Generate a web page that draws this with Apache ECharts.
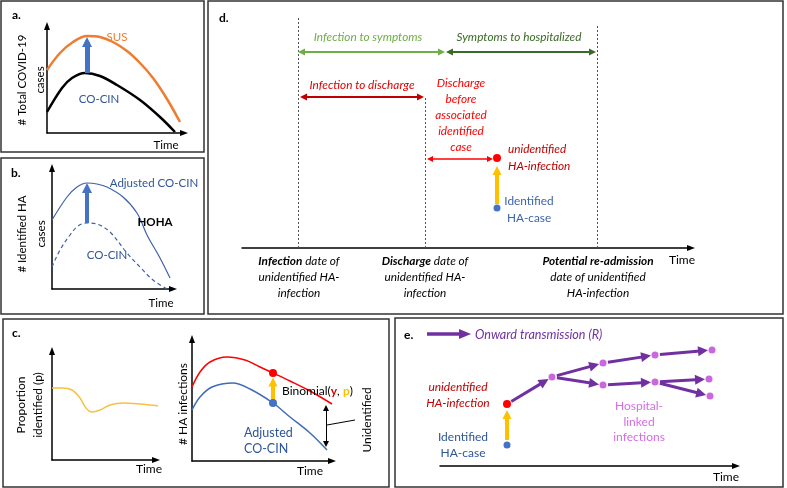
<!DOCTYPE html>
<html><head><meta charset="utf-8">
<script src="https://cdn.jsdelivr.net/npm/echarts@6/dist/echarts.min.js"></script>
<style>html,body{margin:0;padding:0;background:#fff}#c{width:787px;height:488px}</style>
</head><body><div id="c"></div>
<script>
// ---------- data (schematic units) ----------
// Panel a
const susCurve = [[0,63],[13,80],[26,91],[40,97],[53,96],[66,91],[80,82],[93,70],[106,55],[120,34],[133,11]];
const cocinCurveA = [[0,21],[15,45],[25,55],[38,60],[53,57],[70,48],[93,33],[113,16],[128,1]];
const upliftA = [[40,60],[40,91]];
// Panel b
const adjustedCurveB = [[0,69],[15,92],[25,102],[35,106],[45,105],[55,102],[71,92],[85,76],[95,54],[108,31],[118,11]];
const cocinCurveB = [[0,22],[8,39],[18,54],[26,63],[35,66],[45,65],[58,57],[75,36],[88,22],[101,9],[115,0]];
const upliftB = [[35,66],[35,101]];
// Panel c
const proportionCurve = [[0,72],[10,72],[20,70],[28,62],[34,52],[40,48],[48,50],[58,55],[71,57],[88,56],[108,54]];
const totalHACurve = [[0,74],[8,89],[18,99],[35,104],[53,101],[68,94],[81,88],[98,80],[118,70],[140,57]];
const adjustedCurveC = [[0,51],[8,64],[20,74],[41,78],[58,72],[81,58],[98,44],[118,28],[135,11]];
const sampledTotal = [[81,88]];
const sampledIdentified = [[81,58]];
const binomialStep = [[81,61],[81,79]];
const unidentifiedGap = [[134,17],[134,53]];
// Panel d (timeline)
const eventTimes = [56,183,355];
const eventTops = [230,151,223];
const incubation = [[59.5,196],[199.5,196]];
const symptomsToHosp = [[207.5,196],[350.5,196]];
const infectionToDischarge = [[61.5,151],[178.5,151]];
const dischargeToCase = [[188,89],[248,89]];
const unidentifiedD = [[255,90]];
const identifiedD = [[255,40]];
const stepD = [[255,44],[255,77.5]];
// Panel e (transmission tree)
const nodesE = [[67,62],[112,89],[163,103],[163,81],[215,111],[215,84],[272,116],[269,87],[270,70]];
const edgesE = [[0,1],[1,2],[1,3],[2,4],[3,5],[4,6],[5,7],[5,8]];
const identifiedE = [[67,21]];
const stepE = [[67,26],[67,51.5]];

// ---------- layout ----------
const grids = [
  {left:47, top:26, width:137, height:107},
  {left:52, top:168, width:121, height:121},
  {left:52, top:351, width:104, height:109},
  {left:192, top:339, width:140, height:122},
  {left:242, top:18, width:449, height:230},
  {left:440, top:330, width:296, height:136}
];
const showY = [true,true,true,true,false,false];
const FONT = 'Lato';
const BLUE_T = '#2f5597', BLUE_L = '#4472c4', RED = '#ff0000', DRED = '#c00000',
      YEL = '#ffc000', PURP = '#7030a0', PINK = '#d36ee6', LGREEN = '#70ad47', DGREEN = '#3b6a26';

const axisLineStyle = {show:true, onZero:false, symbol:['none','triangle'], symbolSize:[6,8], lineStyle:{color:'#000', width:1.5}};
const xAxis = grids.map((g,i)=>({type:'value', gridIndex:i, min:0, max:g.width, axisLine:axisLineStyle,
  axisTick:{show:false}, axisLabel:{show:false}, splitLine:{show:false}}));
const yAxis = grids.map((g,i)=>({type:'value', gridIndex:i, min:0, max:g.height, show:showY[i], axisLine:axisLineStyle,
  axisTick:{show:false}, axisLabel:{show:false}, splitLine:{show:false}}));

function curve(gi, data, color, width, type, clip){
  return {type:'line', xAxisIndex:gi, yAxisIndex:gi, data, smooth:0.35, showSymbol:false, symbol:'none',
    clip: clip!==false, lineStyle:{color, width, type:type||'solid'}, z:3, silent:true};
}
function arrows(gi, list, color, width, size, both, z){
  return {type:'lines', coordinateSystem:'cartesian2d', xAxisIndex:gi, yAxisIndex:gi,
    symbol: both?['triangle','triangle']:['none','triangle'], symbolSize:[size,size],
    data:list.map(c=>({coords:c})), lineStyle:{color, width, opacity:1, curveness:0}, z:z||4, silent:true, clip:false};
}
function dots(gi, pts, color, size){
  return {type:'scatter', xAxisIndex:gi, yAxisIndex:gi, data:pts, symbolSize:size, itemStyle:{color, opacity:1}, z:6, silent:true};
}

const eArrows = edgesE.map(([a,b])=>{
  const p=nodesE[a], q=nodesE[b]; const dx=q[0]-p[0], dy=q[1]-p[1], L=Math.hypot(dx,dy);
  const s=5/L, e=(L-9)/L;
  return [[p[0]+dx*s,p[1]+dy*s],[p[0]+dx*e,p[1]+dy*e]];
});

const series = [
  // a
  curve(0, susCurve, '#ed7d31', 2.5),
  curve(0, cocinCurveA, '#000', 2.5),
  arrows(0, [upliftA], BLUE_L, 5, [10,10]),
  // b
  curve(1, adjustedCurveB, '#3e62aa', 1.2),
  curve(1, cocinCurveB, '#3e62aa', 1.2, [4,3]),
  arrows(1, [upliftB], BLUE_L, 4, [10,10]),
  // c
  curve(2, proportionCurve, '#f5c242', 1.5, 'solid', false),
  curve(3, totalHACurve, RED, 1.5),
  curve(3, adjustedCurveC, '#3f6cb5', 1.5),
  arrows(3, [binomialStep], YEL, 4, [9,9]),
  arrows(3, [unidentifiedGap], '#000', 1, [6,6], true),
  dots(3, sampledTotal, RED, 8),
  dots(3, sampledIdentified, BLUE_L, 8),
  // d
  {type:'lines', coordinateSystem:'cartesian2d', xAxisIndex:4, yAxisIndex:4, symbol:['none','none'],
   data:eventTimes.map((t,i)=>({coords:[[t,0],[t,eventTops[i]]]})),
   lineStyle:{color:'#555', width:1, type:[2,2], opacity:1}, z:2, silent:true},
  arrows(4, [incubation], LGREEN, 2, [7,7], true),
  arrows(4, [symptomsToHosp], DGREEN, 2, [7,7], true),
  arrows(4, [infectionToDischarge], DRED, 2, [7,7], true),
  arrows(4, [dischargeToCase], RED, 1.5, [6,6], true),
  arrows(4, [stepD], YEL, 4, [9,9]),
  dots(4, unidentifiedD, RED, 8),
  dots(4, identifiedD, BLUE_L, 7),
  // e
  arrows(5, eArrows, PURP, 3, [10,10]),
  arrows(5, [stepE], YEL, 4, [9,9]),
  dots(5, nodesE.slice(0,1), RED, 8),
  dots(5, nodesE.slice(1), '#cc66e0', 7),
  dots(5, identifiedE, BLUE_L, 7)
];

function txt(x, y, text, o){
  o = o || {};
  return {type:'text', x, y, rotation:o.rot||0, silent:true, z:100,
    style:{text, fill:o.color||'#000', fontFamily:FONT, fontSize:o.size||11.5,
      fontStyle:o.italic?'italic':'normal', fontWeight:o.bold?'bold':'normal',
      align:o.align||'center', verticalAlign:'middle', lineHeight:o.lh||undefined, rich:o.rich}};
}
function box(x,y,w,h){
  return {type:'rect', shape:{x,y,width:w,height:h}, style:{fill:'none', stroke:'#333', lineWidth:1.5}, silent:true, z:50};
}
const R = Math.PI/2;
const DS = 11.8;
const dLab = (s)=>({
  b:{fontFamily:FONT, fontSize:s, fontStyle:'italic', fontWeight:'bold', fill:'#000', lineHeight:16},
  n:{fontFamily:FONT, fontSize:s, fontStyle:'italic', fill:'#000', lineHeight:16}
});

const graphic = [
  box(1,1,203,151), box(1,158,203,156), box(208,1,575,313), box(3,319,386,168), box(395,318,388,169),
  // a
  txt(12,15,'a.',{bold:true, align:'left', size:12}),
  txt(31,80,'# Total COVID-19\ncases',{rot:R, lh:18}),
  txt(117,37,'SUS',{color:'#ed7d31'}),
  txt(99,99,'CO-CIN',{color:BLUE_T}),
  txt(166,145,'Time'),
  // b
  txt(11,173,'b.',{bold:true, align:'left', size:12}),
  txt(32,234,'# Identified HA\ncases',{rot:R, lh:19}),
  txt(154,183,'Adjusted CO-CIN',{color:BLUE_T}),
  txt(155,222,'HOHA',{bold:true}),
  txt(107,255,'CO-CIN',{color:BLUE_T}),
  txt(161,303,'Time'),
  // c
  txt(12,333,'c.',{bold:true, align:'left', size:12}),
  txt(30,405,'Proportion\nidentified (p)',{rot:R, size:12, lh:17}),
  txt(149,469,'Time',{size:12}),
  txt(183,404,'# HA infections',{rot:R, size:12}),
  txt(282,391,'{n|Binomial(}{y|y}{n|, }{p|p}{n|)}',{align:'left', rich:{
    n:{fontFamily:FONT, fontSize:12, fill:'#000'},
    y:{fontFamily:FONT, fontSize:12, fill:'#e00000', fontWeight:'bold'},
    p:{fontFamily:FONT, fontSize:12, fill:YEL, fontWeight:'bold'}}}),
  txt(367,420,'Unidentified',{rot:R, size:12}),
  txt(244,441,'Adjusted\nCO-CIN',{align:'left', color:BLUE_T, size:12.5, lh:16}),
  txt(310,471,'Time',{size:12}),
  {type:'line', shape:{x1:327,y1:425,x2:355,y2:420}, style:{stroke:'#000', lineWidth:1}, silent:true, z:60},
  // d
  txt(219,18,'d.',{bold:true, align:'left', size:12}),
  txt(368,37,'Infection to symptoms',{italic:true, color:LGREEN, size:DS}),
  txt(519,37,'Symptoms to hospitalized',{italic:true, color:DGREEN, size:DS}),
  txt(362,85,'Infection to discharge',{italic:true, color:'#e00000', size:DS}),
  txt(461,115,'Discharge\nbefore\nassociated\nidentified\ncase',{italic:true, color:RED, size:DS, lh:16}),
  txt(508,158,'unidentified\nHA-infection',{italic:true, color:DRED, size:DS, align:'left', lh:17}),
  txt(529,210,'Identified\nHA-case',{color:'#3d63ad', size:DS, lh:17}),
  txt(299,277,'{b|Infection}{n| date of}\n{n|unidentified HA-}\n{n|infection}',{rich:dLab(DS)}),
  txt(425,277,'{b|Discharge}{n| date of}\n{n|unidentified HA-}\n{n|infection}',{rich:dLab(DS)}),
  txt(598,277,'{b|Potential re-admission}\n{n|date of unidentified}\n{n|HA-infection}',{rich:dLab(DS)}),
  txt(682,260,'Time',{size:12}),
  // e
  txt(404,335,'e.',{bold:true, align:'left', size:12}),
  {type:'line', shape:{x1:427,y1:334,x2:462,y2:334}, style:{stroke:PURP, lineWidth:3.5}, silent:true, z:60},
  {type:'polygon', shape:{points:[[459,329],[471,334],[459,339]]}, style:{fill:PURP}, silent:true, z:60},
  txt(475,335,'Onward transmission (R)',{italic:true, color:PURP, size:12.6, align:'left'}),
  txt(458,395,'unidentified\nHA-infection',{italic:true, color:DRED, size:12, lh:16}),
  txt(463,445,'Identified\nHA-case',{color:BLUE_T, size:12, lh:16}),
  txt(639,422,'Hospital-\nlinked\ninfections',{color:PINK, size:12, lh:15.5}),
  txt(726,477,'Time',{size:12})
];

const chart = echarts.init(document.getElementById('c'), null, {renderer:'canvas'});
chart.setOption({
  backgroundColor:'#fff', animation:false,
  grid: grids.map(g=>Object.assign({outerBoundsMode:'none', containLabel:false}, g)),
  xAxis, yAxis, series, graphic
});
</script></body></html>
